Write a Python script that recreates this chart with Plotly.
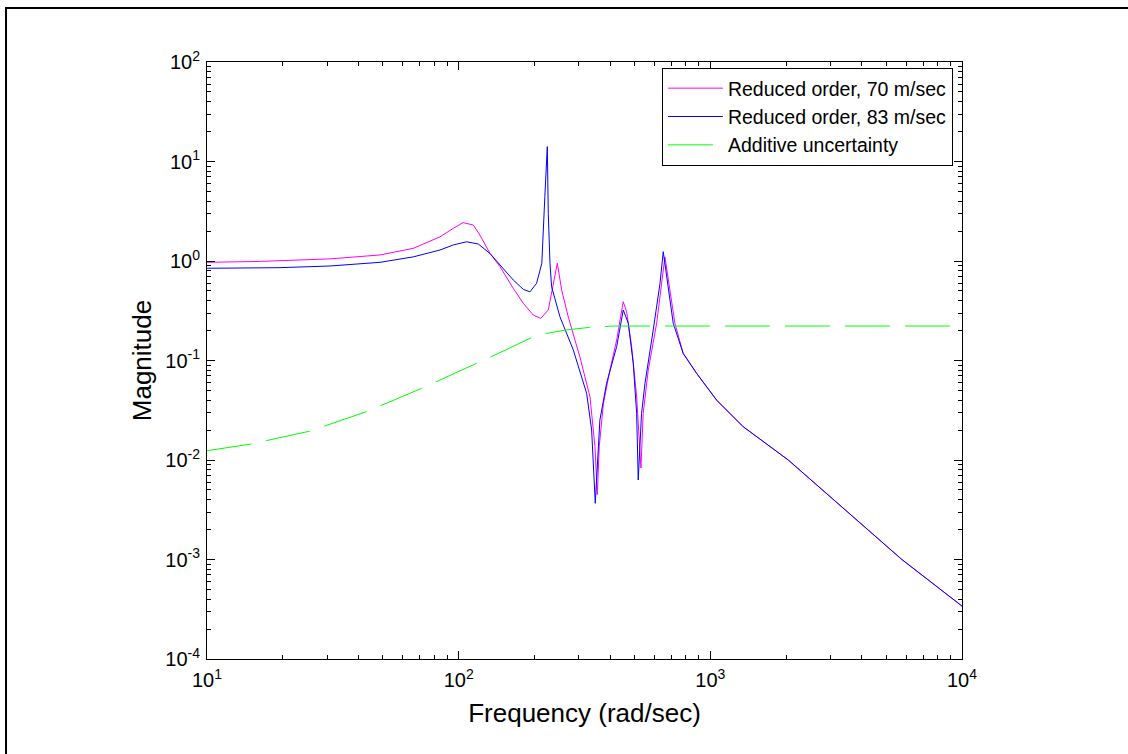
import plotly.graph_objects as go

# ---- data ----
freq_70 = [10, 16.2, 30.8, 48.7, 66, 84.3, 95.2, 104, 114.3, 121.5, 133.2, 146, 164.8, 180.6,
           197.9, 212, 227, 237.6, 246.6, 256.6, 272.5, 303, 332.5, 348, 355.6, 361.9, 376,
           399, 424.5, 450.6, 465, 486.7, 509.6, 530, 541, 566.6, 612, 660, 691, 723, 780,
           882, 1059, 1351, 2040, 5768, 10000]
mag_70 = [0.97, 0.99, 1.05, 1.15, 1.34, 1.75, 2.13, 2.43, 2.30, 1.82, 1.19, 0.877, 0.531, 0.376,
          0.286, 0.265, 0.322, 0.597, 0.95, 0.511, 0.275, 0.109, 0.0432, 0.0136, 0.0045, 0.0136, 0.037,
          0.080, 0.161, 0.39, 0.309, 0.138, 0.0432, 0.0083, 0.0294, 0.080, 0.237, 1.10, 0.511, 0.237, 0.118,
          0.0743, 0.040, 0.0216, 0.010, 0.0010, 0.00034]

freq_83 = [10, 19.5, 30.8, 48.7, 66, 84.3, 95.2, 107.6, 119.7, 133.2, 146, 164.8, 180.6, 192,
           204, 214, 220, 225, 227, 230.6, 234, 252.6, 285.3, 322.5, 337.6, 349, 364, 387,
           424.5, 450.8, 472, 494, 509.6, 517, 533, 550, 593, 631, 650, 680.6, 712, 780,
           882, 1059, 1351, 2040, 5768, 10000]
mag_83 = [0.845, 0.857, 0.891, 0.97, 1.10, 1.29, 1.45, 1.56, 1.48, 1.19, 0.912, 0.644, 0.519, 0.49,
          0.597, 0.95, 4.43, 14.1, 3.01, 0.95, 0.552, 0.275, 0.128, 0.0467, 0.020, 0.00367, 0.0252, 0.059,
          0.138, 0.322, 0.237, 0.0937, 0.0294, 0.0063, 0.0294, 0.059, 0.203, 0.597, 1.24, 0.511, 0.237, 0.118,
          0.0743, 0.040, 0.0216, 0.010, 0.0010, 0.00034]

freq_unc = [10, 14.8, 25.6, 43, 71.3, 119.7, 146, 192, 224, 268.5, 330, 411, 1000, 10000]
mag_unc = [0.0124, 0.0144, 0.0195, 0.0306, 0.0525, 0.095, 0.12, 0.167, 0.1875, 0.203, 0.215, 0.222, 0.222, 0.222]

series_names = ["Reduced order, 70 m/sec", "Reduced order, 83 m/sec", "Additive uncertainty"]

x_tickvals = [10, 100, 1000, 10000]
x_ticktext = ["10<sup>1</sup>", "10<sup>2</sup>", "10<sup>3</sup>", "10<sup>4</sup>"]
y_tickvals = [1e-4, 1e-3, 1e-2, 1e-1, 1, 10, 100]
y_ticktext = ["10<sup>-4</sup>", "10<sup>-3</sup>", "10<sup>-2</sup>", "10<sup>-1</sup>",
              "10<sup>0</sup>", "10<sup>1</sup>", "10<sup>2</sup>"]

# minor tick positions (2..9 within each decade)
x_minor = [m * d for d in x_tickvals[:-1] for m in range(2, 10)]
y_minor = [m * d for d in y_tickvals[:-1] for m in range(2, 10)]

FONT = "Arial, 'Liberation Sans', Helvetica, sans-serif"

fig = go.Figure()
fig.add_trace(go.Scatter(x=freq_70, y=mag_70, mode="lines", name=series_names[0],
                         line=dict(color="#FF00FF", width=1)))
fig.add_trace(go.Scatter(x=freq_83, y=mag_83, mode="lines", name=series_names[1],
                         line=dict(color="#0000FF", width=1)))
fig.add_trace(go.Scatter(x=freq_unc, y=mag_unc, mode="lines", name=series_names[2],
                         line=dict(color="#00FF00", width=1, dash="45px,15px")))

axis_common = dict(
    type="log", showline=True, linecolor="black", linewidth=1, mirror="allticks",
    ticks="inside", ticklen=8, tickcolor="black", tickwidth=1,
    showgrid=False, zeroline=False,
    tickfont=dict(family=FONT, size=20, color="black"),
)

fig.update_xaxes(range=[1, 4], tickvals=x_tickvals, ticktext=x_ticktext,
                 minor=dict(tickvals=x_minor, ticks="inside", ticklen=4, tickcolor="black",
                            tickwidth=1, showgrid=False),
                 ticklabelstandoff=3,
                 title=dict(text="Frequency (rad/sec)", font=dict(family=FONT, size=26, color="black"),
                            standoff=13),
                 **axis_common)
fig.update_yaxes(range=[-4, 2], tickvals=y_tickvals, ticktext=y_ticktext,
                 minor=dict(tickvals=y_minor, ticks="inside", ticklen=4, tickcolor="black",
                            tickwidth=1, showgrid=False),
                 ticklabelstandoff=2,
                 title=dict(text="Magnitude", font=dict(family=FONT, size=26, color="black"),
                            standoff=6),
                 **axis_common)

fig.update_layout(
    width=1128, height=754,
    margin=dict(l=207, r=166, t=62, b=95),
    paper_bgcolor="white", plot_bgcolor="white",
    font=dict(family=FONT, color="black"),
    showlegend=True,
    legend=dict(x=0.988, xanchor="right", y=0.990, yanchor="top",
                bgcolor="white", bordercolor="black", borderwidth=1,
                font=dict(family=FONT, size=19.5, color="black"),
                tracegroupgap=0, itemwidth=55),
    shapes=[dict(type="rect", xref="paper", yref="paper",
                 x0=-0.2662, x1=1.23, y0=-0.2, y1=1.0905,
                 line=dict(color="black", width=2), fillcolor="rgba(0,0,0,0)", layer="below")],
)

fig.write_html("out.html", config={"displayModeBar": False},
               post_script="document.body.style.margin='0';document.body.style.padding='0';")
